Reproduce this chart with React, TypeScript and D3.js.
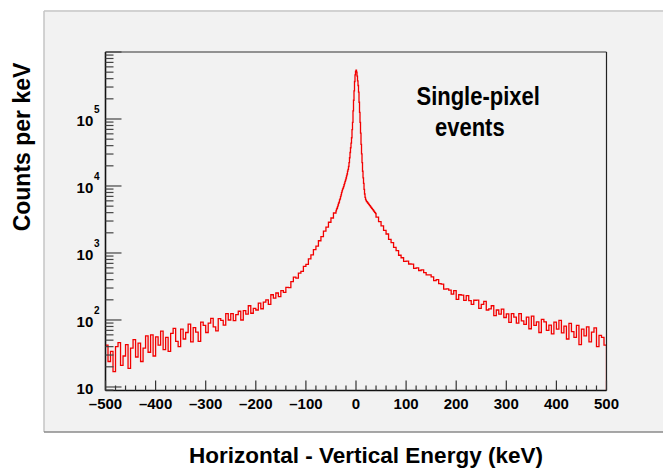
import React from 'react';
import * as d3 from 'd3';

const WIDTH = 663;
const HEIGHT = 474;
const FONT = '"Liberation Sans", Arial, Helvetica, sans-serif';

// Energy range of the histogram (keV) and the lower edge of the count axis
const X_DOMAIN: [number, number] = [-500, 500];
const Y_DOMAIN: [number, number] = [8.86, 1e6];

// Left tail: 5 keV bins starting at -500 keV (counts per keV)
const LEFT_TAIL_START = -500;
const TAIL_BIN = 5;
const leftTail = [
  42, 24, 34, 17, 40, 46, 21, 29, 43, 19,
  38, 51, 28, 45, 24, 38, 58, 33, 60, 29,
  56, 42, 68, 36, 55, 34, 63, 75, 48, 40,
  73, 52, 65, 87, 47, 77, 66, 48, 93, 83,
  65, 90, 106, 79, 69, 105, 99, 84, 124, 100,
  124, 98, 120, 135, 100, 138, 122, 163, 126, 149,
  141, 178, 147, 185, 200, 171, 238, 212, 253, 223,
  274, 259, 307, 304, 374, 435, 421, 501, 530, 630,
  674, 816, 934, 1126, 1263, 1524, 1759, 2121, 2428, 2877,
  3330, 3950,
];

// Core: 1 keV bins from -40 to +40 keV around the peak
const CORE_START = -40;
const CORE_BIN = 1;
const core = [
  4240, 4510, 4650, 4920, 5200, 5530, 5740, 6190, 6420, 6950,
  7390, 7980, 8470, 8950, 9300, 9810, 10430, 11010, 11700, 12350,
  13150, 14180, 15100, 16640, 17750, 19550, 22350, 26400, 31600, 37200,
  43600, 52500, 69200, 89100, 131800, 190500, 263000, 363100, 457100, 512900,
  537000, 501200, 436500, 371500, 316200, 251200, 177800, 125900, 89100, 61660,
  41690, 30200, 22390, 16600, 13180, 10960, 8910, 7590, 6760, 6310,
  6030, 5860, 5790, 5600, 5530, 5350, 5270, 5110, 5040, 4880,
  4810, 4650, 4590, 4450, 4390, 4250, 4190, 4050, 3990, 3870,
];

// Right tail: 5 keV bins from +40 to +500 keV
const RIGHT_TAIL_START = 40;
const rightTail = [
  3420, 2930, 2540, 2170, 1920, 1600, 1430, 1215, 1085, 925,
  849, 749, 757, 685, 681, 589, 598, 548, 558, 510,
  472, 471, 440, 387, 401, 349, 343, 288, 291, 280,
  243, 274, 203, 238, 235, 196, 231, 195, 171, 197,
  198, 149, 171, 189, 141, 146, 163, 116, 141, 122,
  145, 109, 123, 92, 124, 110, 90, 124, 97, 86,
  110, 74, 114, 83, 94, 65, 102, 94, 70, 84,
  62, 93, 73, 99, 64, 81, 52, 89, 67, 55,
  83, 43, 73, 58, 79, 47, 66, 76, 40, 59,
  55, 42,
];

const yDecadeLabels = [
  { value: 10, exp: '' },
  { value: 1e2, exp: '2' },
  { value: 1e3, exp: '3' },
  { value: 1e4, exp: '4' },
  { value: 1e5, exp: '5' },
];

const legendLines = ['Single-pixel', 'events'];
const xTitle = 'Horizontal - Vertical Energy (keV)';
const yTitle = 'Counts per keV';

// Plot frame
const PLOT = { left: 105.5, right: 606.5, top: 52, bottom: 390.5 };

type Bin = { x0: number; v: number };

function buildBins(): Bin[] {
  const bins: Bin[] = [];
  leftTail.forEach((v, i) => bins.push({ x0: LEFT_TAIL_START + i * TAIL_BIN, v }));
  core.forEach((v, i) => bins.push({ x0: CORE_START + i * CORE_BIN, v }));
  rightTail.forEach((v, i) => bins.push({ x0: RIGHT_TAIL_START + i * TAIL_BIN, v }));
  return bins;
}

export default function App() {
  const x = d3.scaleLinear().domain(X_DOMAIN).range([PLOT.left, PLOT.right]);
  const y = d3.scaleLog().domain(Y_DOMAIN).range([PLOT.bottom, PLOT.top]);

  const bins = buildBins();
  const last = bins[bins.length - 1];
  const pts: [number, number][] = bins.map((b) => [b.x0, b.v]);
  pts.push([X_DOMAIN[1], last.v]);
  pts.push([X_DOMAIN[1], Y_DOMAIN[0]]);

  const line = d3
    .line<[number, number]>()
    .x((d) => x(d[0]))
    .y((d) => y(d[1]))
    .curve(d3.curveStepAfter);

  const yTicks = y.ticks();
  const xTicks = x.ticks(50);

  const isDecade = (v: number) => Math.abs(Math.log10(v) - Math.round(Math.log10(v))) < 1e-9;

  return (
    <svg
      width={WIDTH}
      height={HEIGHT}
      viewBox={`0 0 ${WIDTH} ${HEIGHT}`}
      style={{ position: 'absolute', left: 0, top: 0, background: '#ffffff' }}
    >
      {/* canvas panel */}
      <rect x={44} y={11} width={WIDTH - 44} height={421} fill="#f2f2f2" />
      <line x1={44} y1={11} x2={WIDTH} y2={11} stroke="#d2d2d2" strokeWidth={2} />
      <line x1={44} y1={11} x2={44} y2={432} stroke="#c4c4c4" strokeWidth={1.5} />
      <line x1={44} y1={432} x2={WIDTH} y2={432} stroke="#8a8a8a" strokeWidth={1.5} />

      <defs>
        <clipPath id="plot-clip">
          <rect x={PLOT.left} y={PLOT.top} width={PLOT.right - PLOT.left} height={PLOT.bottom - PLOT.top} />
        </clipPath>
      </defs>

      {/* histogram outline */}
      <path
        d={line(pts) || ''}
        fill="none"
        stroke="#f20000"
        strokeWidth={1.3}
        clipPath="url(#plot-clip)"
      />

      {/* frame */}
      <line x1={PLOT.left} y1={PLOT.top} x2={PLOT.right} y2={PLOT.top} stroke="#333" strokeWidth={1.2} />
      <line x1={PLOT.right} y1={PLOT.top} x2={PLOT.right} y2={PLOT.bottom} stroke="#222" strokeWidth={1.2} />
      <line x1={PLOT.left} y1={PLOT.top} x2={PLOT.left} y2={PLOT.bottom} stroke="#111" strokeWidth={1.6} />
      <line x1={PLOT.left} y1={PLOT.bottom} x2={PLOT.right} y2={PLOT.bottom} stroke="#111" strokeWidth={1.6} />

      {/* y ticks */}
      {yTicks.map((t) => {
        const major = isDecade(t);
        return (
          <line
            key={`yt${t}`}
            x1={PLOT.left}
            x2={PLOT.left + (major ? 16 : 8)}
            y1={y(t)}
            y2={y(t)}
            stroke="#444"
            strokeWidth={1.2}
          />
        );
      })}

      {/* x ticks */}
      {xTicks.map((t) => {
        const major = t % 100 === 0;
        return (
          <line
            key={`xt${t}`}
            x1={x(t)}
            x2={x(t)}
            y1={PLOT.bottom}
            y2={PLOT.bottom - (major ? 10 : 5)}
            stroke="#333"
            strokeWidth={1.2}
          />
        );
      })}

      {/* y tick labels */}
      {yDecadeLabels.map((d) => (
        <g key={`yl${d.value}`} fontFamily={FONT} fontWeight="bold" fill="#000">
          <text x={93.3} y={y(d.value) + 7} fontSize={15} textAnchor="end">
            10
          </text>
          {d.exp && (
            <text x={94} y={y(d.value) - 5.5} fontSize={10}>
              {d.exp}
            </text>
          )}
        </g>
      ))}

      {/* x tick labels */}
      {xTicks
        .filter((t) => t % 100 === 0)
        .map((t) => (
          <text
            key={`xl${t}`}
            x={x(t)}
            y={409}
            fontFamily={FONT}
            fontWeight="bold"
            fontSize={15}
            textAnchor="middle"
            fill="#000"
          >
            {t < 0 ? `\u2013${Math.abs(t)}` : `${t}`}
          </text>
        ))}

      {/* annotation */}
      <g fontFamily={FONT} fontWeight="bold" fontSize={22} fill="#000">
        <text transform="translate(416.5, 105) scale(1, 1.15)">{legendLines[0]}</text>
        <text transform="translate(435, 136) scale(1, 1.15)">{legendLines[1]}</text>
      </g>

      {/* axis titles */}
      <text
        x={366}
        y={463}
        fontFamily={FONT}
        fontWeight="bold"
        fontSize={22.5}
        textAnchor="middle"
        fill="#000"
      >
        {xTitle}
      </text>
      <text
        transform={`translate(30, 147) rotate(-90)`}
        fontFamily={FONT}
        fontWeight="bold"
        fontSize={23}
        textAnchor="middle"
        fill="#000"
      >
        {yTitle}
      </text>
    </svg>
  );
}
